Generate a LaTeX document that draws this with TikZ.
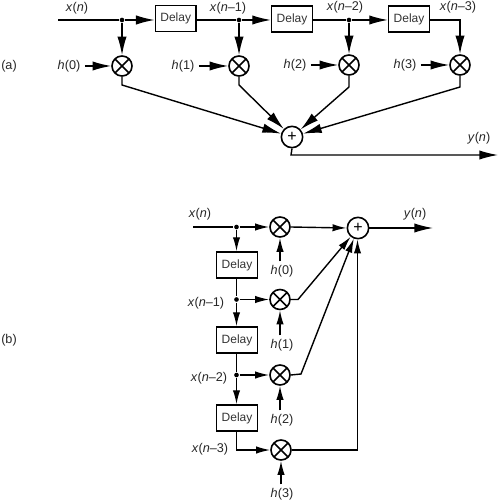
\documentclass[tikz,border=0pt]{standalone}
\usepackage{fontspec}
\setmainfont{Liberation Sans}
\usetikzlibrary{arrows.meta,calc}
\tikzset{
  x=0.75pt,y=-0.75pt,
  every path/.style={line width=1.05pt},
  delaybox/.style={draw,rectangle,minimum width=30.5pt,minimum height=19.5pt,inner sep=0pt,line width=1.1pt,font=\fontsize{9}{10}\selectfont,text=black!80},
  mult/.style={draw,circle,minimum size=15pt,inner sep=0pt,line width=1.2pt,
    path picture={\draw[line width=1.1pt] (path picture bounding box.north west)--(path picture bounding box.south east)
      (path picture bounding box.north east)--(path picture bounding box.south west);}},
  adder/.style={draw,circle,minimum size=16pt,inner sep=0pt,line width=1.2pt,font=\fontsize{12}{12}\selectfont,text=black},
  lab/.style={inner sep=0pt,font=\fontsize{9.5}{10}\selectfont,text=black!85},
  arr/.style={-{Latex[length=14pt,width=7pt]}},
  arrs/.style={-{Latex[length=10.5pt,width=5.5pt]}},
  dot/.style={circle,fill=black,draw=none,minimum size=3.5pt,inner sep=0pt},
}
\newcommand{\xv}[1]{\textit{x}(\textit{n}#1)}
\begin{document}
\begin{tikzpicture}
\useasboundingbox (0,0) rectangle (500,502);
% ---------- (a)
\node[lab] (la) at (9,66) {(a)};
\coordinate (ain) at (58,20);
\node[dot] (aj0) at (122,20) {};
\node[dot] (aj1) at (239,20) {};
\node[dot] (aj2) at (349,20) {};
\coordinate (ac3) at (460,20);
\node[delaybox] (ad1) at (175.7,18.7) {Delay};
\node[delaybox] (ad2) at (292,19) {Delay};
\node[delaybox] (ad3) at (409,19) {Delay};
\node[mult] (am0) at (122,66) {};
\node[mult] (am1) at (239,66) {};
\node[mult] (am2) at (349,65) {};
\node[mult] (am3) at (460,65) {};
\node[adder] (asum) at (292,137) {+};
\node[lab] (ah0) at (69,66) {\textit{h}(0)};
\node[lab] (ah1) at (183,66) {\textit{h}(1)};
\node[lab] (ah2) at (295,65) {\textit{h}(2)};
\node[lab] (ah3) at (405,65) {\textit{h}(3)};
\node[lab] (ax0) at (77,8) {\xv{}};
\node[lab] (ax1) at (228,8) {\xv{–1}};
\node[lab] (ax2) at (345,7) {\xv{–2}};
\node[lab] (ax3) at (458,7) {\xv{–3}};
\node[lab] (ay) at (479,138) {\textit{y}(\textit{n})};
\coordinate (ao0) at (122,85);
\coordinate (ao1) at (239,85);
\coordinate (ao2) at (349,87);
\coordinate (ao3) at (460,87);
\coordinate (ab) at (291,155);
\coordinate (aend) at (498,155);
\draw (ain) -- (aj0);
\draw[arr] (aj0) -- (ad1.west |- aj0);
\draw (ad1.east |- aj1) -- (aj1);
\draw[arr] (aj1) -- (ad2.west |- aj1);
\draw (ad2.east |- aj2) -- (aj2);
\draw[arr] (aj2) -- (ad3.west |- aj2);
\draw[arr] (ad3.east |- ac3) -- (ac3) -- (am3.north);
\draw[arr] (aj0) -- (am0.north);
\draw[arr] (aj1) -- (am1.north);
\draw[arr] (aj2) -- (am2.north);
\draw[arr] ($(ah0.east)+(4,0)$) -- (am0.west);
\draw[arr] ($(ah1.east)+(4,0)$) -- (am1.west);
\draw[arr] ($(ah2.east)+(4,0)$) -- (am2.west);
\draw[arr] ($(ah3.east)+(4,0)$) -- (am3.west);
\draw[arr] (am0.south) -- (ao0) -- (asum);
\draw[arr] (am1.south) -- (ao1) -- (asum);
\draw[arr] (am2.south) -- (ao2) -- (asum);
\draw[arr] (am3.south) -- (ao3) -- (asum);
\draw[arr] (asum.south) -- (ab) -- (aend);
% ---------- (b)
\node[lab] (lb) at (9,340) {(b)};
\coordinate (bin) at (193,227);
\node[dot] (bj0) at (236.5,227) {};
\node[dot] (bj1) at (236.5,299.5) {};
\node[dot] (bj2) at (236.5,375) {};
\coordinate (bc3) at (236.5,450);
\node[delaybox] (bd1) at (237,265) {Delay};
\node[delaybox] (bd2) at (237,340) {Delay};
\node[delaybox] (bd3) at (237,418) {Delay};
\node[mult] (bm0) at (280,227) {};
\node[mult] (bm1) at (280,299.5) {};
\node[mult] (bm2) at (280,375) {};
\node[mult] (bm3) at (281,450) {};
\node[adder] (bsum) at (358,228) {+};
\node[lab] (bh0) at (282,271) {\textit{h}(0)};
\node[lab] (bh1) at (282,345) {\textit{h}(1)};
\node[lab] (bh2) at (282,420) {\textit{h}(2)};
\node[lab] (bh3) at (282,494) {\textit{h}(3)};
\node[lab] (bx0) at (200,214) {\xv{}};
\node[lab] (bx1) at (206,303) {\xv{–1}};
\node[lab] (bx2) at (209,378) {\xv{–2}};
\node[lab] (bx3) at (210,449) {\xv{–3}};
\node[lab] (by) at (415,214) {\textit{y}(\textit{n})};
\coordinate (bo1) at (298,299.5);
\coordinate (bo2) at (301,374);
\coordinate (bo3) at (357.5,450);
\coordinate (bend) at (433,228);
\draw (bin) -- (bj0);
\draw[arrs] (bj0) -- (bm0.west);
\draw[arrs] (bj0) -- (bd1.north -| bj0);
\draw (bd1.south -| bj1) -- (bj1);
\draw[arrs] (bj1) -- (bd2.north -| bj1);
\draw (bd2.south -| bj2) -- (bj2);
\draw[arrs] (bj2) -- (bd3.north -| bj2);
\draw[arrs] (bd3.south -| bc3) -- (bc3) -- (bm3.west);
\draw[arrs] (bj1) -- (bm1.west);
\draw[arrs] (bj2) -- (bm2.west);
\draw[arrs] (bh0.north -| bm0) ++(0,-3) -- (bm0.south);
\draw[arrs] (bh1.north -| bm1) ++(0,-3) -- (bm1.south);
\draw[arrs] (bh2.north -| bm2) ++(0,-3) -- (bm2.south);
\draw[arrs] (bh3.north -| bm3) ++(0,-3) -- (bm3.south);
\draw[arrs] (bm0.east) -- (bsum.west);
\draw[arrs] (bm1.east) -- (bo1) -- (bsum);
\draw[arrs] (bm2.east) -- (bo2) -- (bsum);
\draw[arrs] (bm3.east) -- (bo3) -- (bsum.south -| bo3);
\draw[arr] (bsum.east) -- (bend);
\end{tikzpicture}
\end{document}
